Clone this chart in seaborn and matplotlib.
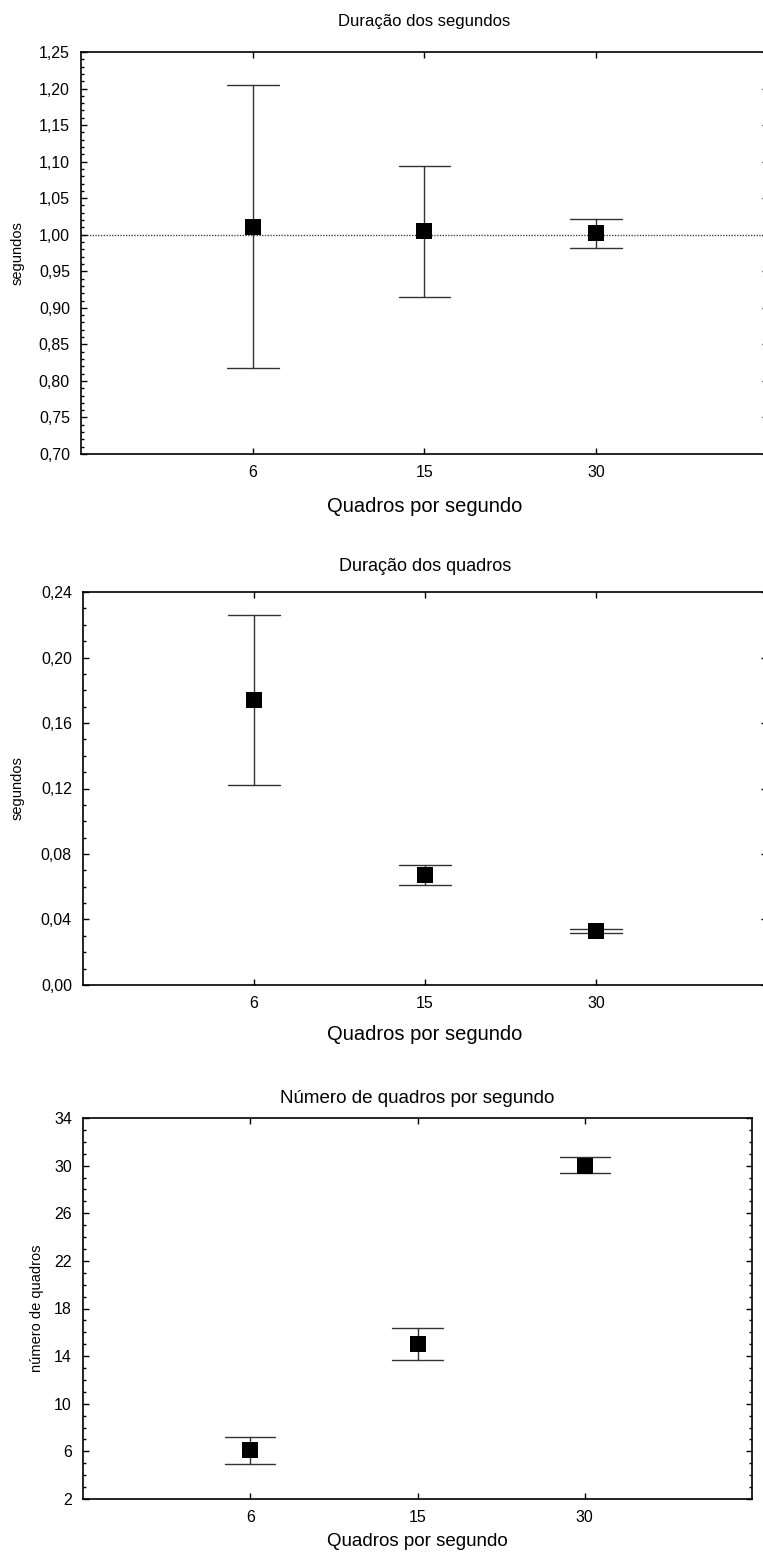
import numpy as np
import pandas as pd
import matplotlib
matplotlib.use("Agg")
import matplotlib.pyplot as plt
from matplotlib.ticker import MultipleLocator, FixedLocator
import seaborn as sns

# categorias (quadros por segundo)
fps = ["6", "15", "30"]

# painel 1: duracao dos segundos (media, limite inferior, limite superior)
seg_mean = [1.011, 1.005, 1.002]
seg_low = [0.817, 0.915, 0.982]
seg_high = [1.205, 1.094, 1.022]

# painel 2: duracao dos quadros
qd_mean = [0.174, 0.067, 0.033]
qd_low = [0.122, 0.061, 0.0318]
qd_high = [0.226, 0.073, 0.0342]

# painel 3: numero de quadros por segundo
nq_mean = [6.1, 15.0, 30.0]
nq_low = [4.9, 13.7, 29.4]
nq_high = [7.2, 16.4, 30.7]

seg_ticks = [0.70, 0.75, 0.80, 0.85, 0.90, 0.95, 1.00, 1.05, 1.10, 1.15, 1.20, 1.25]
qd_ticks = [0.00, 0.04, 0.08, 0.12, 0.16, 0.20, 0.24]
nq_ticks = [2, 6, 10, 14, 18, 22, 26, 30, 34]

titles = ["Duração dos segundos", "Duração dos quadros", "Número de quadros por segundo"]
ylabels = ["segundos", "segundos", "número de quadros"]
xlabel = "Quadros por segundo"

sns.set_style("ticks")
plt.rcParams["font.family"] = ["Liberation Sans", "DejaVu Sans"]
plt.rcParams["text.color"] = "black"
plt.rcParams["axes.labelcolor"] = "black"
plt.rcParams["xtick.color"] = "black"
plt.rcParams["ytick.color"] = "black"


def long_form(mean, low, high):
    rows = []
    for c, m, lo, hi in zip(fps, mean, low, high):
        for v in (lo, m, hi):
            rows.append({"fps": c, "valor": v})
    return pd.DataFrame(rows)


fig = plt.figure(figsize=(7.63, 15.57), dpi=100)
W, H = 763, 1557
# left, top, right, bottom in pixels
boxes = [(81, 52, 768, 454), (83, 592, 767, 985), (83, 1118, 752, 1499)]
axes = [fig.add_axes([l / W, 1 - b / H, (r - l) / W, (b - t) / H]) for l, t, r, b in boxes]

# (medias, inferiores, superiores, ticks, casas decimais, minor, pad titulo, tam titulo, tam xlabel, pad xlabel)
panels = [
    (seg_mean, seg_low, seg_high, seg_ticks, 2, 0.01, 19, 12, 14.5, 12),
    (qd_mean, qd_low, qd_high, qd_ticks, 2, 0.01, 15, 13, 14.5, 10),
    (nq_mean, nq_low, nq_high, nq_ticks, 0, 1, 11, 13.5, 13.5, 6),
]

for i, (ax, (m, lo, hi, yt, dec, minor, tpad, tsize, xsize, xpad)) in enumerate(zip(axes, panels)):
    df = long_form(m, lo, hi)
    sns.pointplot(data=df, x="fps", y="valor", order=fps, ax=ax,
                  estimator="median", errorbar=("pi", 100), capsize=0.3,
                  color="black", linestyle="none", marker="s", markersize=11.5,
                  markeredgewidth=0,
                  err_kws={"linewidth": 1.0, "color": "#333333", "zorder": 1})
    ax.set_xlim(-1, 3)
    ax.set_ylim(yt[0], yt[-1])
    ax.yaxis.set_major_locator(FixedLocator(yt))
    ax.set_yticklabels([f"{v:.{dec}f}".replace(".", ",") for v in yt])
    ax.yaxis.set_minor_locator(MultipleLocator(minor))
    ax.tick_params(which="both", direction="in", top=True, right=True,
                   labelsize=11.5, width=1, color="black", labelcolor="black")
    ax.tick_params(which="major", length=4, pad=8)
    ax.tick_params(which="minor", length=2)
    ax.tick_params(axis="x", which="minor", top=False, bottom=False)
    for s in ax.spines.values():
        s.set_linewidth(1.2)
        s.set_color("black")
    ax.set_title(titles[i], fontsize=tsize, pad=tpad)
    ax.set_xlabel(xlabel, fontsize=xsize, labelpad=xpad)
    ax.set_ylabel(ylabels[i], fontsize=10.5)
    ax.grid(False)

axes[0].axhline(1.0, color="#444444", linestyle=(0, (1, 1)), linewidth=1.0, zorder=0.5)
axes[0].yaxis.set_label_coords(-0.082, 0.5)
axes[1].yaxis.set_label_coords(-0.085, 0.5)
axes[2].yaxis.set_label_coords(-0.058, 0.5)

fig.savefig("out.png", dpi=100)
